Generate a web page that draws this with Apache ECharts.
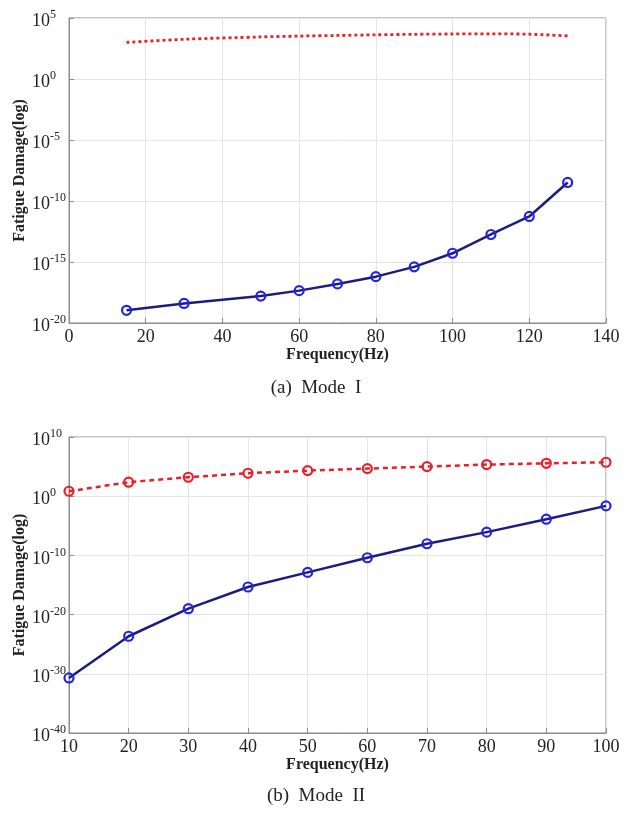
<!DOCTYPE html>
<html><head><meta charset="utf-8">
<script src="https://cdn.jsdelivr.net/npm/echarts@6/dist/echarts.min.js"></script>
<style>html,body{margin:0;padding:0;background:#fff}#c{width:632px;height:814px}</style>
</head><body><div id="c"></div>
<script>
// ---- (a) Mode I ----
const freqA = [15, 30, 50, 60, 70, 80, 90, 100, 110, 120, 130];
const blueA = [1.1e-19, 4e-19, 1.6e-18, 4.5e-18, 1.6e-17, 6.3e-17, 4e-16, 5.2e-15, 1.8e-13, 5.4e-12, 3.3e-9];
const redA  = [1000, 1800, 2800, 3300, 3700, 4200, 4600, 4900, 5000, 4700, 3400];
const xTicksA = [0, 20, 40, 60, 80, 100, 120, 140];
const yExpA = [-20, -15, -10, -5, 0, 5];      // y tick labels: 10^exp
// ---- (b) Mode II ----
const freqB = [10, 20, 30, 40, 50, 60, 70, 80, 90, 100];
const redB  = [6.9, 230, 1600, 7600, 2.1e4, 4.6e4, 1e5, 2.2e5, 3.6e5, 5.4e5];
const blueB = [2e-31, 2.2e-24, 1e-19, 4.6e-16, 1.35e-13, 4e-11, 9.3e-9, 8.5e-7, 1.3e-4, 2.3e-2];
const xTicksB = [10, 20, 30, 40, 50, 60, 70, 80, 90, 100];
const yExpB = [-40, -30, -20, -10, 0, 10];    // y tick labels: 10^exp
const captions = ['(a)  Mode  I', '(b)  Mode  II'];

const SERIF = '"Liberation Serif", "Times New Roman", serif';
const gridLine = { show: true, lineStyle: { color: '#e4e4e4', width: 1 } };
const axisLine = { show: true, onZero: false, lineStyle: { color: '#8c8c8c', width: 1 } };

// The y axes are decade (log10) axes: the library's value scale runs over exponents.
function yLabel(e) { return '{b|10}{s|' + Math.round(e) + '}'; }
function toLog(values, xs) { return xs.map((f, i) => [f, Math.log10(values[i])]); }

function xAxis(gi, ticks) {
  return {
    type: 'value', gridIndex: gi,
    min: ticks[0], max: ticks[ticks.length - 1], interval: ticks[1] - ticks[0],
    name: 'Frequency(Hz)', nameLocation: 'middle', nameGap: 24, nameMoveOverlap: false,
    nameTextStyle: { fontFamily: SERIF, fontSize: 16, fontWeight: 'bold', color: '#222' },
    axisLine: axisLine,
    axisTick: { show: true, inside: true, length: 5, lineStyle: { color: '#8c8c8c' } },
    axisLabel: { fontFamily: SERIF, fontSize: 18, color: '#222', margin: 5 },
    splitLine: gridLine
  };
}
function yAxis(gi, exps) {
  return {
    type: 'value', gridIndex: gi,
    min: exps[0], max: exps[exps.length - 1], interval: exps[1] - exps[0],
    name: 'Fatigue Damage(log)', nameLocation: 'middle', nameGap: 41, nameMoveOverlap: false,
    nameTextStyle: { fontFamily: SERIF, fontSize: 16, fontWeight: 'bold', color: '#222' },
    axisLine: axisLine,
    axisTick: { show: true, inside: true, length: 5, lineStyle: { color: '#8c8c8c' } },
    axisLabel: {
      align: 'left', margin: 37, formatter: yLabel,
      rich: {
        b: { fontFamily: SERIF, fontSize: 18, lineHeight: 18, color: '#222', padding: [7, 0, 0, 0] },
        s: { fontFamily: SERIF, fontSize: 12, lineHeight: 12, color: '#222', verticalAlign: 'top' }
      }
    },
    splitLine: gridLine
  };
}

const BLUE_LINE = '#1c1c80';
const BLUE_MARK = '#2424e0';
const RED = '#e8202a';
const mark = (c) => ({ color: 'rgba(255,255,255,0)', borderColor: c, borderWidth: 2.2 });

const chart = echarts.init(document.getElementById('c'), null, { renderer: 'canvas' });
chart.setOption({
  animation: false,
  backgroundColor: '#fff',
  grid: [
    { left: 69, top: 18, width: 537, height: 305, show: true, borderColor: '#8c8c8c', borderWidth: 1, outerBoundsMode: 'none', containLabel: false },
    { left: 69, top: 437, width: 537, height: 296, show: true, borderColor: '#8c8c8c', borderWidth: 1, outerBoundsMode: 'none', containLabel: false }
  ],
  xAxis: [xAxis(0, xTicksA), xAxis(1, xTicksB)],
  yAxis: [yAxis(0, yExpA), yAxis(1, yExpB)],
  series: [
    { type: 'line', xAxisIndex: 0, yAxisIndex: 0, data: toLog(redA, freqA),
      showSymbol: false, smooth: 0.3, lineStyle: { color: RED, width: 2.8, type: [3, 3] }, z: 3 },
    { type: 'line', xAxisIndex: 0, yAxisIndex: 0, data: toLog(blueA, freqA),
      symbol: 'circle', symbolSize: 9, itemStyle: mark(BLUE_MARK),
      lineStyle: { color: BLUE_LINE, width: 2.5 }, z: 3 },
    { type: 'line', xAxisIndex: 1, yAxisIndex: 1, data: toLog(redB, freqB),
      symbol: 'circle', symbolSize: 9, itemStyle: mark(RED),
      lineStyle: { color: RED, width: 2.5, type: [5, 4] }, z: 3 },
    { type: 'line', xAxisIndex: 1, yAxisIndex: 1, data: toLog(blueB, freqB),
      symbol: 'circle', symbolSize: 9, itemStyle: mark(BLUE_MARK),
      lineStyle: { color: BLUE_LINE, width: 2.5 }, z: 3 }
  ],
  graphic: [
    { type: 'text', x: 316, y: 388, style: { text: captions[0], font: '19px ' + SERIF, fill: '#222', textAlign: 'center', textVerticalAlign: 'middle' } },
    { type: 'text', x: 316, y: 796, style: { text: captions[1], font: '19px ' + SERIF, fill: '#222', textAlign: 'center', textVerticalAlign: 'middle' } }
  ]
});
</script></body></html>
